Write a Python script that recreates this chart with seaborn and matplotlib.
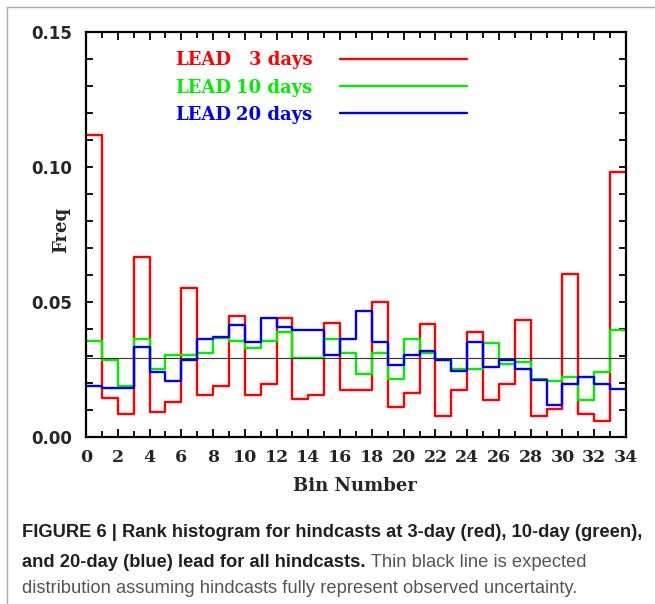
import numpy as np
import pandas as pd
import matplotlib
matplotlib.use("Agg")
import matplotlib.pyplot as plt
from matplotlib.lines import Line2D
from matplotlib.ticker import MultipleLocator, FormatStrFormatter
import seaborn as sns

# rank histogram values, one per bin (bins 0..33)
bin_edges = np.arange(35)
lead3 = [0.112, 0.0145, 0.0084, 0.0665, 0.0094, 0.0128, 0.0553, 0.0154, 0.0189, 0.0450,
         0.0154, 0.0196, 0.0441, 0.0139, 0.0154, 0.0423, 0.0173, 0.0173, 0.0501, 0.0111,
         0.0163, 0.0417, 0.0077, 0.0173, 0.0388, 0.0138, 0.0198, 0.0432, 0.0077, 0.0102,
         0.0604, 0.0084, 0.0058, 0.098]
lead10 = [0.0355, 0.0284, 0.0189, 0.0363, 0.0251, 0.0303, 0.0303, 0.0312, 0.0368, 0.0356,
          0.0328, 0.0356, 0.0388, 0.0291, 0.0291, 0.0363, 0.0312, 0.0232, 0.0312, 0.0214,
          0.0363, 0.0312, 0.0285, 0.0251, 0.0251, 0.0347, 0.0269, 0.0278, 0.0214, 0.0208,
          0.0223, 0.0138, 0.0242, 0.0397]
lead20 = [0.0189, 0.0180, 0.0180, 0.0334, 0.0242, 0.0208, 0.0285, 0.0362, 0.0371, 0.0416,
          0.0353, 0.0441, 0.0407, 0.0397, 0.0397, 0.0304, 0.0362, 0.0468, 0.0353, 0.0266,
          0.0302, 0.0318, 0.0284, 0.0243, 0.0353, 0.0258, 0.0284, 0.0251, 0.0210, 0.0119,
          0.0197, 0.0223, 0.0197, 0.0179]
expected = 1.0 / 34

lead_names = ["3 days", "10 days", "20 days"]
lead_colors = ["#ff0000", "#00ee00", "#0000ee"]

sns.set_theme(style="ticks")
plt.rcParams["font.family"] = ["DejaVu Sans"]

rows = []
for name, vals in zip(lead_names, [lead3, lead10, lead20]):
    ext = list(vals) + [vals[-1]]  # repeat last so the step reaches x=34
    for x, y in zip(bin_edges, ext):
        rows.append({"bin": x, "freq": y, "lead": name})
df = pd.DataFrame(rows)

fig = plt.figure(figsize=(6.55, 6.04), dpi=100)
ax = fig.add_axes([86 / 655, 1 - 437 / 604, 540 / 655, 405 / 604])

sns.lineplot(data=df, x="bin", y="freq", hue="lead", hue_order=lead_names,
             palette=lead_colors, drawstyle="steps-post", estimator=None,
             legend=False, lw=1.7, ax=ax)
ax.axhline(expected, color="#333333", lw=0.8, zorder=5)

ax.set_xlim(0, 34)
ax.set_ylim(0, 0.15)
ax.xaxis.set_major_locator(MultipleLocator(2))
ax.xaxis.set_minor_locator(MultipleLocator(1))
ax.yaxis.set_major_locator(MultipleLocator(0.05))
ax.yaxis.set_minor_locator(MultipleLocator(0.01))
ax.yaxis.set_major_formatter(FormatStrFormatter("%.2f"))
ax.tick_params(which="both", direction="in", top=True, right=True, width=1.3, color="black")
ax.tick_params(axis="x", which="major", length=6, pad=9)
ax.tick_params(axis="x", which="minor", length=4)
ax.tick_params(axis="y", which="both", length=5, pad=10)
for s in ax.spines.values():
    s.set_linewidth(1.6)
    s.set_color("black")

for lab in ax.get_xticklabels():
    lab.set_fontfamily("DejaVu Serif")
    lab.set_fontweight("bold")
    lab.set_fontsize(12.5)
for lab in ax.get_yticklabels():
    lab.set_fontfamily("DejaVu Sans")
    lab.set_fontweight("bold")
    lab.set_fontsize(12)

ax.set_xlabel("Bin Number", fontfamily="DejaVu Serif", fontweight="bold", fontsize=13)
ax.set_ylabel("Freq", fontfamily="DejaVu Serif", fontweight="bold", fontsize=13)
ax.xaxis.set_label_coords(0.498, -0.098)
ax.yaxis.set_label_coords(-0.03, 0.51)

# legend drawn as text + line pairs
text_base = [0.9185, 0.85, 0.7827]
line_y = [0.9333, 0.8667, 0.80]
for name, col, tb, ly in zip(lead_names, lead_colors, text_base, line_y):
    ax.text(0.165, tb, "LEAD", color=col, transform=ax.transAxes, ha="left", va="baseline",
            fontfamily="DejaVu Serif", fontweight="bold", fontsize=13)
    ax.text(0.419, tb, name, color=col, transform=ax.transAxes, ha="right", va="baseline",
            fontfamily="DejaVu Serif", fontweight="bold", fontsize=13)
    ax.plot([0.470, 0.706], [ly, ly], color=col, lw=1.7, transform=ax.transAxes)

# caption
cap_font = ["Liberation Sans", "DejaVu Sans"]
x0 = 22 / 655
base = [1 - 537 / 604, 1 - 567 / 604, 1 - 593 / 604]
t1 = fig.text(x0, base[0], "FIGURE 6 | Rank histogram for hindcasts at 3-day (red), 10-day (green),",
              fontfamily=cap_font, fontweight="bold", fontsize=11, color="#231f20", va="baseline")
renderer = fig.canvas.get_renderer()
w = t1.get_window_extent(renderer).width
cap_size = 11 * 622 / w
t1.set_fontsize(cap_size)
t2 = fig.text(x0, base[1], "and 20-day (blue) lead for all hindcasts.",
              fontfamily=cap_font, fontweight="bold", fontsize=cap_size, color="#231f20", va="baseline")
bb = t2.get_window_extent(renderer)
fig.text(bb.x1 / fig.bbox.width, base[1], " Thin black line is expected",
         fontfamily=cap_font, fontsize=cap_size, color="#555555", va="baseline")
fig.text(x0, base[2], "distribution assuming hindcasts fully represent observed uncertainty.",
         fontfamily=cap_font, fontsize=cap_size, color="#555555", va="baseline")

# frame of the screenshot
fig.add_artist(Line2D([7 / 655, 1], [1 - 7 / 604, 1 - 7 / 604], color="#aaaaaa", lw=1,
                      transform=fig.transFigure))
fig.add_artist(Line2D([7 / 655, 7 / 655], [0, 1 - 7 / 604], color="#aaaaaa", lw=1,
                      transform=fig.transFigure))

fig.savefig("out.png", dpi=100)
